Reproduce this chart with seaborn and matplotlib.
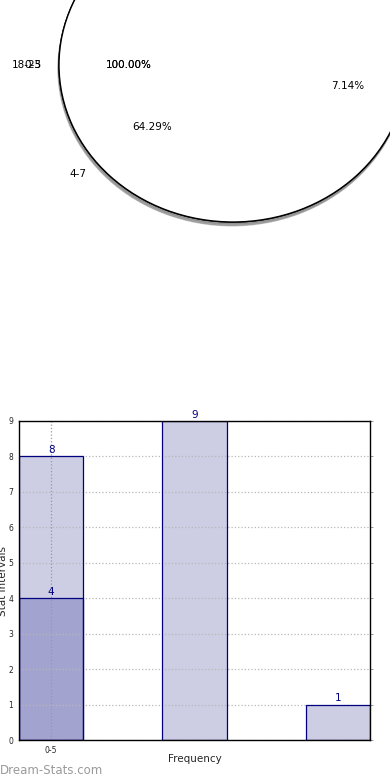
import matplotlib
matplotlib.use("Agg")
import matplotlib.pyplot as plt
import seaborn as sns

# ---- data ----
pie_full_labels_a = ["18-25"]
pie_full_labels_b = ["0-3"]
pie_full_values = [1]
pie_labels = ["0-3", "4-7", "8-11"]
pie_values = [4, 9, 1]

bar_categories = ["0-5", "6-11", "12-17"]
bar_light_values = [8, 9, 1]
bar_dark_categories = ["0-5"]
bar_dark_values = [4]
ytick_values = [0, 1, 2, 3, 4, 5, 6, 7, 8, 9]
xtick_labels = ["0-5"]

sns.set_style("white")
plt.rcParams["font.family"] = ["DejaVu Sans"]

W, H = 390, 780
fig = plt.figure(figsize=(3.9, 7.8), dpi=100)

# ---- pie area ----
cx, cy, rx, ry = 233, 65, 174, 157
axp = fig.add_axes([(cx - 1.25 * rx) / W, (H - (cy + 1.25 * ry)) / H,
                    2.5 * rx / W, 2.5 * ry / H])
tp = dict(fontsize=7.5, color="black")
axp.pie(pie_values, labels=pie_labels, autopct="%.2f%%", colors=["white"] * 3,
        wedgeprops=dict(linewidth=0, zorder=0.3), textprops=tp, radius=1.07,
        center=(0.035, 0.006), labeldistance=1.05)
shadows = [dict(ox=-0.004, oy=-0.017, shade=0.55), dict(ox=-0.002, oy=-0.01, shade=0.5)]
for lab, sh in zip((pie_full_labels_a, pie_full_labels_b), shadows):
    axp.pie(pie_full_values, labels=lab, autopct="%.2f%%", colors=["white"],
            wedgeprops=dict(edgecolor="black", linewidth=1.0), shadow=sh,
            textprops=tp)
axp.set_xlim(-1.25, 1.25)
axp.set_ylim(-1.25, 1.25)
axp.set_aspect("auto")
axp.axis("off")

# ---- bar chart ----
left, right, top, bottom = 19, 370, 421, 740
ax = fig.add_axes([left / W, (H - bottom) / H, (right - left) / W, (bottom - top) / H])
light = "#cdcde4"
dark = "#a3a3d0"
navy = "#000080"
bw = 0.45
sns.barplot(x=bar_categories, y=bar_light_values, order=bar_categories, color=light,
            saturation=1, width=bw, linewidth=0, ax=ax)
sns.barplot(x=bar_dark_categories, y=bar_dark_values, order=bar_categories, color=dark,
            saturation=1, width=bw, linewidth=0, ax=ax)
label_conts = list(ax.containers)
# outlines drawn above the dotted grid
sns.barplot(x=bar_categories, y=bar_light_values, order=bar_categories, fill=False,
            color=navy, edgecolor=navy, width=bw, linewidth=0.9, zorder=2, ax=ax)
sns.barplot(x=bar_dark_categories, y=bar_dark_values, order=bar_categories, fill=False,
            color=navy, edgecolor=navy, width=bw, linewidth=0.9, zorder=2, ax=ax)
for cont in label_conts:
    ax.bar_label(cont, color=navy, fontsize=7.5, padding=1)

ax.set_xlim(-bw / 2, len(bar_categories) - 1 + bw / 2)
ax.set_ylim(0, 9)
ax.set_yticks(ytick_values)
ax.set_yticklabels([str(v) for v in ytick_values])
ax.set_xticks([0])
ax.set_xticklabels(xtick_labels)
ax.tick_params(axis="both", labelsize=5.5, length=2, width=0.6, color="#888888", pad=2)
ax.tick_params(axis="y", right=True, direction="out")
ax.set_axisbelow("line")
ax.grid(True, axis="y", linestyle=":", color="#b8b8b8", linewidth=0.9)
ax.grid(True, axis="x", linestyle=":", color="#999999", linewidth=0.9)
for s in ax.spines.values():
    s.set_color("black")
    s.set_linewidth(1.0)
    s.set_visible(True)
    s.set_zorder(3)
ax.set_ylabel("Stat Intervals", fontsize=7.5)
ax.set_xlabel("Frequency", fontsize=7.5)
ax.yaxis.set_label_coords(-0.031, 0.5)
ax.xaxis.set_label_coords(0.5, -0.044)

fig.text(0.0, (H - 770) / H, "Dream-Stats.com", fontsize=8.5, color="#9a9a9a",
         va="center", ha="left")

fig.savefig("out.png", dpi=100)
